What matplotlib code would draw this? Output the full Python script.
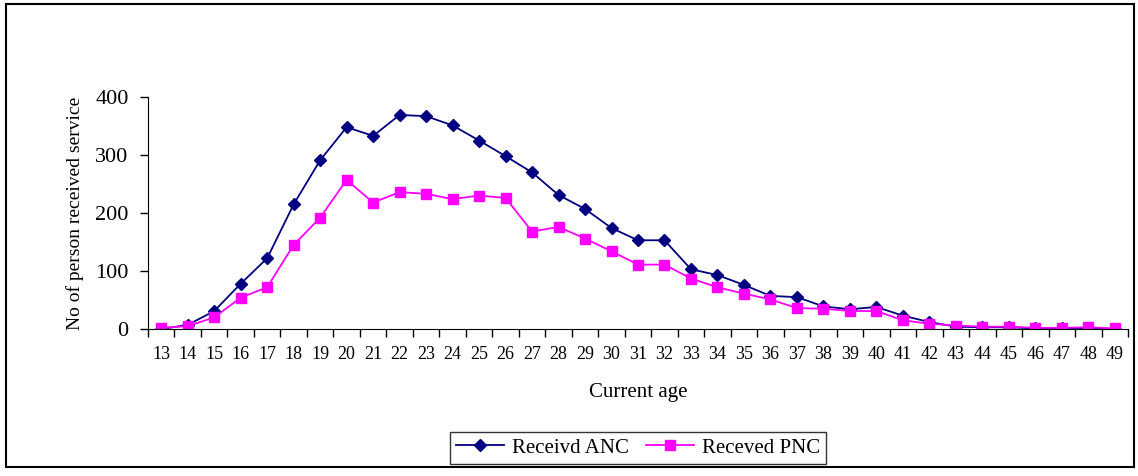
import matplotlib.pyplot as plt
from matplotlib.patches import Rectangle

# ages 13..49
ages = list(range(13, 50))
anc = [0, 7, 31, 78, 122, 215, 291, 348, 333, 369, 367, 351, 325, 298, 270, 231, 207, 174, 153, 153,
       103, 93, 76, 57, 55, 39, 34, 38, 23, 12, 4, 3, 3, 1, 1, 1, 0]
pnc = [2, 5, 20, 54, 72, 145, 192, 257, 218, 236, 233, 224, 230, 226, 168, 176, 156, 134, 111, 111,
       87, 72, 61, 51, 36, 35, 31, 31, 15, 9, 6, 4, 4, 2, 2, 3, 1]

plt.rcParams['font.family'] = ['Liberation Serif']

fig = plt.figure(figsize=(11.38, 4.76), dpi=100)
ax = fig.add_axes([148/1138, 1 - 329/476, 980/1138, 232/476])

x = list(range(len(ages)))
ax.plot(x, anc, color='#000080', marker='D', markersize=6, linewidth=1.3, label='Receivd ANC')
ax.plot(x, pnc, color='#FF00FF', marker='s', markersize=7, linewidth=1.3, label='Receved PNC')

ax.set_xlim(-0.5, len(ages) - 0.5)
ax.set_ylim(0, 400)
ax.set_yticks([0, 100, 200, 300, 400])
ax.set_xticks(x)
ax.set_xticklabels([str(a) for a in ages], fontsize=13)
ax.set_xticks([i - 0.5 for i in range(len(ages) + 1)], minor=True)
ax.tick_params(axis='x', which='major', length=0, pad=12)
ax.tick_params(axis='x', which='minor', length=6, direction='out', width=1)
ax.tick_params(axis='y', labelsize=16, length=6, direction='out', width=1, pad=8)

for s in ['top', 'right']:
    ax.spines[s].set_visible(False)

ax.set_xlabel('Current age', fontsize=15, labelpad=15)
ax.set_ylabel('No of person received service', fontsize=14, labelpad=8)

leg = ax.legend(loc='center', bbox_to_anchor=(638/1138, 1 - 448/476), bbox_transform=fig.transFigure,
                ncol=2, fontsize=15, frameon=True, fancybox=False, edgecolor='black',
                handlelength=2.3, columnspacing=0.8, handletextpad=0.4, borderpad=0.3)
leg.get_frame().set_linewidth(1.0)

# outer chart frame
fig.patches.append(Rectangle((6/1138, 1 - 467/476), 1128/1138, 463/476, transform=fig.transFigure,
                             fill=False, edgecolor='black', linewidth=1.5))

fig.savefig('out.png', dpi=100)
